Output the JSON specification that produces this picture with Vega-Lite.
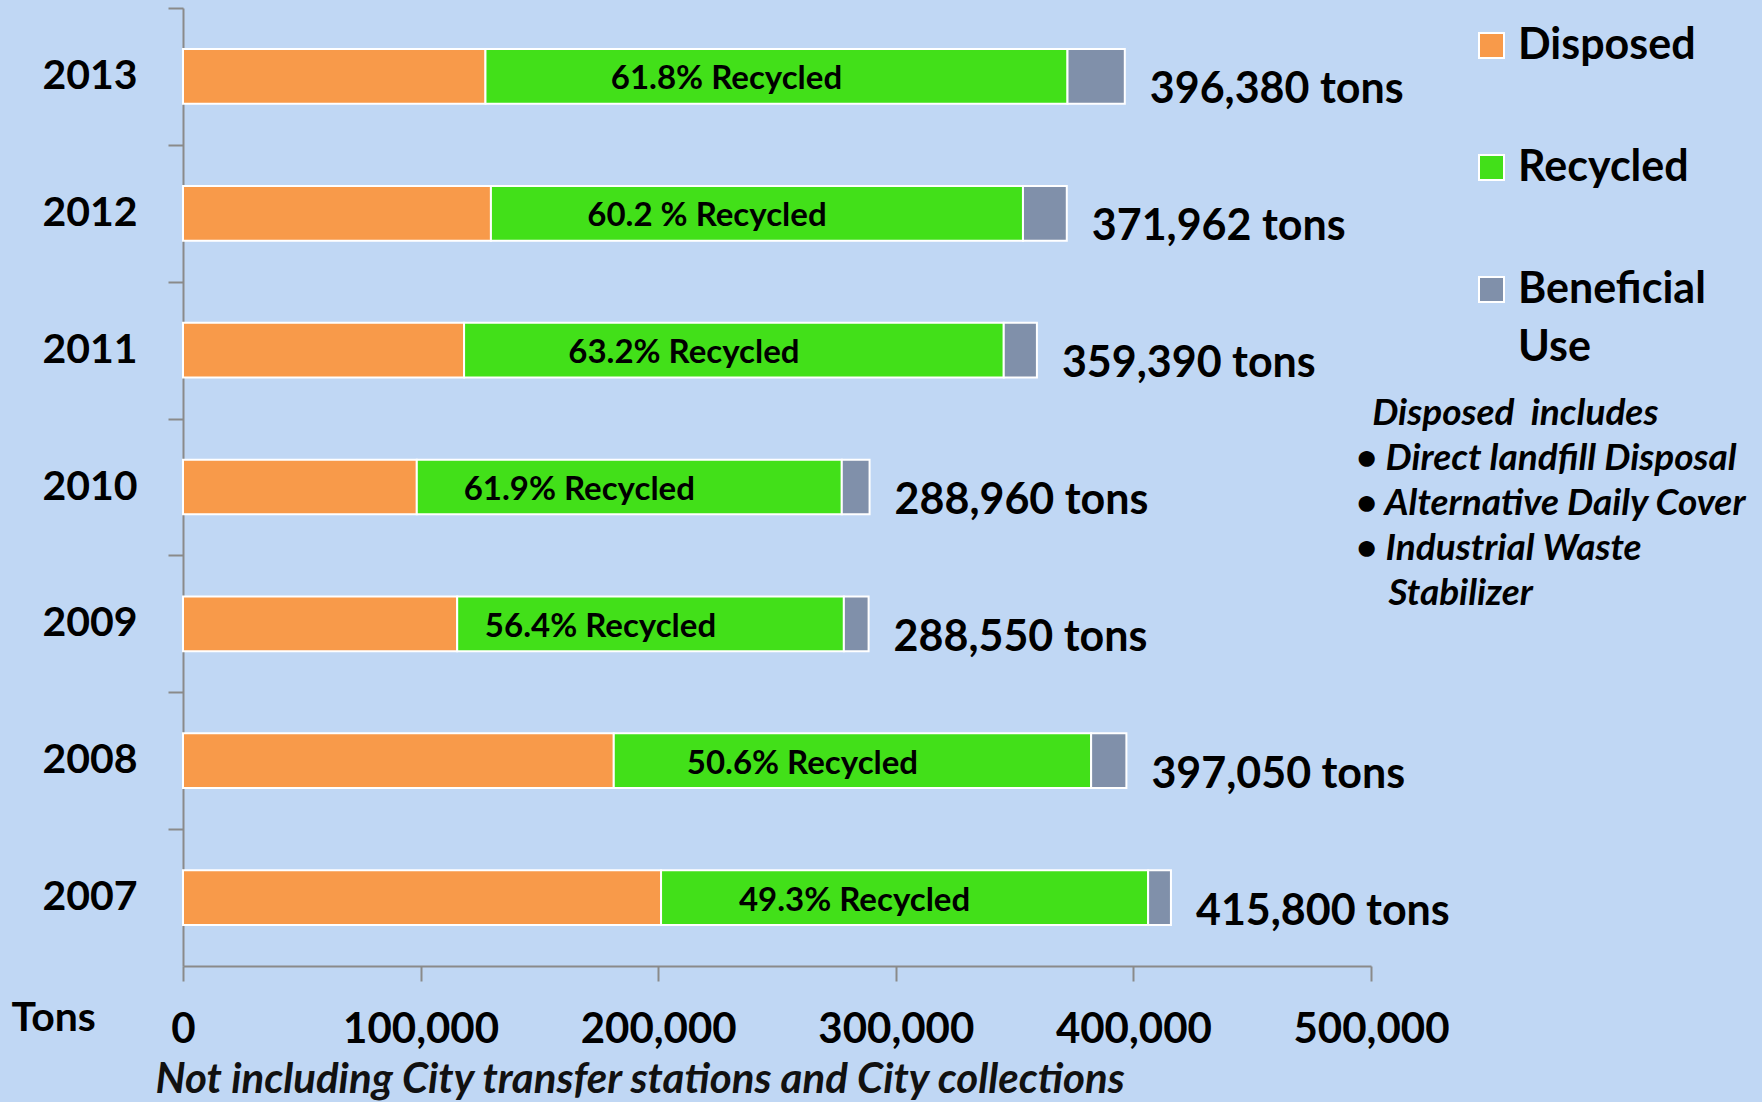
{
  "$schema": "https://vega.github.io/schema/vega-lite/v6.json",
  "width": 1188,
  "height": 958,
  "autosize": {"type": "none"},
  "padding": {"left": 183, "top": 8, "right": 391, "bottom": 136},
  "background": "#C0D7F4",
  "datasets": {
    "waste": [
      {"year": "2013", "Disposed": 127300, "Recycled": 244963, "Beneficial Use": 24117, "total": 396380, "pct": "61.8% Recycled", "totalLabel": "396,380 tons"},
      {"year": "2012", "Disposed": 129600, "Recycled": 223921, "Beneficial Use": 18441, "total": 371962, "pct": "60.2 % Recycled", "totalLabel": "371,962 tons"},
      {"year": "2011", "Disposed": 118300, "Recycled": 227134, "Beneficial Use": 13956, "total": 359390, "pct": "63.2% Recycled", "totalLabel": "359,390 tons"},
      {"year": "2010", "Disposed": 98400, "Recycled": 178866, "Beneficial Use": 11694, "total": 288960, "pct": "61.9% Recycled", "totalLabel": "288,960 tons"},
      {"year": "2009", "Disposed": 115400, "Recycled": 162742, "Beneficial Use": 10408, "total": 288550, "pct": "56.4% Recycled", "totalLabel": "288,550 tons"},
      {"year": "2008", "Disposed": 181300, "Recycled": 200907, "Beneficial Use": 14843, "total": 397050, "pct": "50.6% Recycled", "totalLabel": "397,050 tons"},
      {"year": "2007", "Disposed": 201200, "Recycled": 204989, "Beneficial Use": 9611, "total": 415800, "pct": "49.3% Recycled", "totalLabel": "415,800 tons"}
    ]
  },
  "data": {"name": "waste"},
  "title": {
    "text": "\u200b\u00a0\u00a0Disposed\u00a0 includes",
    "subtitle": ["•\u00a0Direct landfill Disposal", "•\u00a0Alternative Daily Cover", "•\u00a0Industrial Waste", "\u200b\u00a0\u00a0\u00a0\u00a0Stabilizer"],
    "orient": "top",
    "anchor": "start",
    "frame": "group",
    "dx": 1173,
    "dy": 610,
    "font": "Lato",
    "fontSize": 37,
    "fontStyle": "italic",
    "fontWeight": "bold",
    "color": "black",
    "subtitleFont": "Lato",
    "subtitleFontSize": 37,
    "subtitleFontStyle": "italic",
    "subtitleFontWeight": "bold",
    "subtitleColor": "black",
    "subtitleLineHeight": 45,
    "subtitlePadding": 8
  },
  "layer": [
    {
      "transform": [
        {"fold": ["Disposed", "Recycled", "Beneficial Use"], "as": ["type", "tons"]},
        {"calculate": "indexof(['Disposed','Recycled','Beneficial Use'], datum.type)", "as": "ord"}
      ],
      "mark": {"type": "bar", "stroke": "white", "strokeWidth": 2, "tooltip": false},
      "encoding": {
        "y": {
          "field": "year", "type": "ordinal", "sort": "descending",
          "scale": {"paddingInner": 0.6, "paddingOuter": 0.3},
          "axis": {
            "title": "Tons",
            "titleAngle": 0,
            "titleAlign": "left",
            "titleBaseline": "middle",
            "titleX": -172,
            "titleY": 1010,
            "titleFont": "Lato",
            "titleFontSize": 41,
            "titleFontWeight": "bold",
            "titleColor": "black",
            "tickOffset": -68.4,
            "labelOffset": 68.4,
            "tickSize": 15,
            "labelPadding": 31,
            "labelFontSize": 41
          }
        },
        "x": {
          "field": "tons", "type": "quantitative", "stack": "zero",
          "scale": {"domain": [0, 500000], "nice": false},
          "axis": {
            "values": [0, 100000, 200000, 300000, 400000, 500000],
            "format": ",d",
            "title": "Not including City transfer stations and City collections",
            "titleFont": "Lato",
            "titleFontSize": 42,
            "titleFontStyle": "italic",
            "titleFontWeight": "bold",
            "titleColor": "#111111",
            "titleAnchor": "start",
            "titleAlign": "left",
            "titleBaseline": "alphabetic",
            "titleX": -28,
            "titleY": 126,
            "tickSize": 15,
            "labelPadding": 28,
            "labelFontSize": 42,
            "labelFlush": false,
            "labelOverlap": false
          }
        },
        "color": {
          "field": "type", "type": "nominal",
          "scale": {"domain": ["Disposed", "Recycled", "Beneficial Use"], "range": ["#F89A4A", "#42E019", "#8090AA"]},
          "legend": {
            "labelExpr": "datum.label == 'Beneficial Use' ? ['Beneficial', 'Use'] : datum.label",
            "encode": {"labels": {"update": {"lineHeight": {"value": 58}}}}
          }
        },
        "order": {"field": "ord", "type": "quantitative"}
      }
    },
    {
      "transform": [{"calculate": "datum.Disposed + datum.Recycled / 2", "as": "mid"}],
      "mark": {"type": "text", "font": "Lato", "fontWeight": "bold", "fontSize": 33, "color": "black", "align": "center", "baseline": "middle", "dx": -50, "dy": 3},
      "encoding": {
        "y": {"field": "year", "type": "ordinal", "sort": "descending"},
        "x": {"field": "mid", "type": "quantitative"},
        "text": {"field": "pct"}
      }
    },
    {
      "mark": {"type": "text", "font": "Lato", "fontWeight": "bold", "fontSize": 43, "color": "black", "align": "left", "baseline": "middle", "dx": 25, "dy": 14},
      "encoding": {
        "y": {"field": "year", "type": "ordinal", "sort": "descending"},
        "x": {"field": "total", "type": "quantitative"},
        "text": {"field": "totalLabel"}
      }
    }
  ],
  "config": {
    "font": "Lato",
    "view": {"stroke": null},
    "axis": {
      "grid": false,
      "domainColor": "#8a8a8a",
      "domainWidth": 2,
      "tickColor": "#8a8a8a",
      "tickWidth": 2,
      "labelFont": "Lato",
      "labelFontWeight": "bold",
      "labelColor": "black"
    },
    "legend": {
      "orient": "none",
      "legendX": 1287,
      "legendY": 16,
      "title": null,
      "symbolType": "square",
      "symbolSize": 625,
      "symbolStrokeColor": "white",
      "symbolStrokeWidth": 2,
      "symbolOpacity": 1,
      "labelFont": "Lato",
      "labelFontSize": 43,
      "labelFontWeight": "bold",
      "labelColor": "black",
      "labelOffset": 5,
      "rowPadding": 78,
      "padding": 0,
      "labelLimit": 400
    }
  }
}
